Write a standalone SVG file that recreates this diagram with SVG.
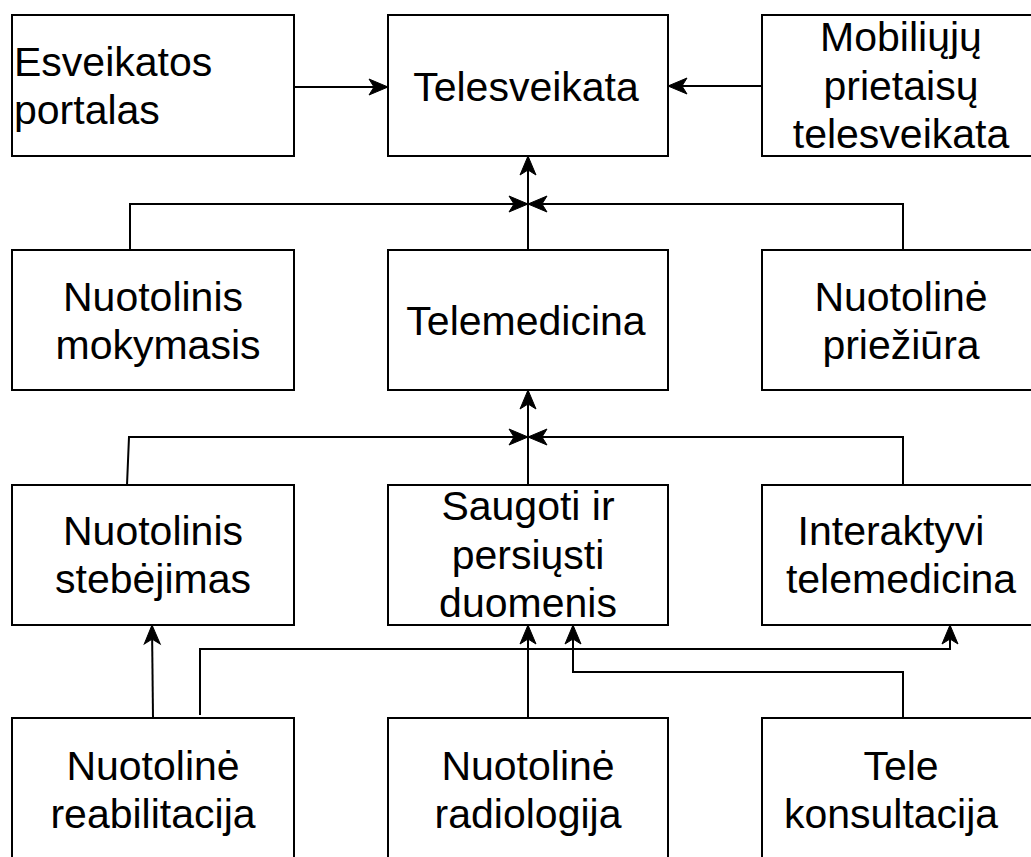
<svg xmlns="http://www.w3.org/2000/svg" width="1031" height="857" viewBox="0 0 1031 857">
<defs>
<style>
.box{fill:#fff;stroke:#000;stroke-width:2}
.t{font-family:"Liberation Sans",Arial,sans-serif;font-size:41px;fill:#000;text-anchor:middle}
.tl{text-anchor:start}
.c{fill:none;stroke:#000;stroke-width:2}
</style>
<marker id="ah" markerUnits="userSpaceOnUse" markerWidth="24" markerHeight="20" refX="19" refY="8" orient="auto" overflow="visible">
<path d="M0,0 L19,8 L0,16 L5,8 Z" fill="#000" stroke="#000" stroke-width="1" stroke-linejoin="miter"/>
</marker>
</defs>
<rect width="1031" height="857" fill="#fff"/>
<g id="connectors">
<path class="c" d="M294,87 L388,87" marker-end="url(#ah)"/>
<path class="c" d="M762,86 L668,86" marker-end="url(#ah)"/>
<path class="c" d="M528,250 L528,156" marker-end="url(#ah)"/>
<path class="c" d="M130,250 L130,204 L528,204" marker-end="url(#ah)"/>
<path class="c" d="M903,250 L903,204 L528,204" marker-end="url(#ah)"/>
<path class="c" d="M528,485 L528,390" marker-end="url(#ah)"/>
<path class="c" d="M127,485 L129,437 L528,437" marker-end="url(#ah)"/>
<path class="c" d="M903,485 L903,437 L528,437" marker-end="url(#ah)"/>
<path class="c" d="M153,718 L152,625" marker-end="url(#ah)"/>
<path class="c" d="M200,715 L200,649 L950,649 L950,625" marker-end="url(#ah)"/>
<path class="c" d="M528,718 L528,625" marker-end="url(#ah)"/>
<path class="c" d="M903,718 L903,672 L573,672 L573,625" marker-end="url(#ah)"/>
</g>
<g id="esveikatos">
<rect class="box" x="12" y="15" width="282" height="141"/>
<text class="t tl" x="14" y="76">Esveikatos</text>
<text class="t tl" x="14" y="124">portalas</text>
</g>
<g id="telesveikata">
<rect class="box" x="388" y="15" width="280" height="141"/>
<text class="t" x="526" y="101">Telesveikata</text>
</g>
<g id="mobiliuju">
<rect class="box" x="762" y="15" width="280" height="141"/>
<text class="t" x="901" y="51">Mobiliųjų</text>
<text class="t" x="901" y="100">prietaisų</text>
<text class="t" x="901" y="148">telesveikata</text>
</g>
<g id="mokymasis">
<rect class="box" x="12" y="250" width="282" height="140"/>
<text class="t" x="153" y="311">Nuotolinis</text>
<text class="t" x="158" y="359">mokymasis</text>
</g>
<g id="telemedicina">
<rect class="box" x="388" y="250" width="280" height="140"/>
<text class="t" x="526" y="335">Telemedicina</text>
</g>
<g id="prieziura">
<rect class="box" x="762" y="250" width="280" height="140"/>
<text class="t" x="901" y="311">Nuotolinė</text>
<text class="t" x="901" y="359">priežiūra</text>
</g>
<g id="stebejimas">
<rect class="box" x="12" y="485" width="282" height="140"/>
<text class="t" x="153" y="545">Nuotolinis</text>
<text class="t" x="153" y="593">stebėjimas</text>
</g>
<g id="saugoti">
<rect class="box" x="388" y="485" width="280" height="140"/>
<text class="t" x="528" y="520">Saugoti ir</text>
<text class="t" x="528" y="569">persiųsti</text>
<text class="t" x="528" y="617">duomenis</text>
</g>
<g id="interaktyvi">
<rect class="box" x="762" y="485" width="280" height="140"/>
<text class="t" x="891" y="545">Interaktyvi</text>
<text class="t" x="901" y="593">telemedicina</text>
</g>
<g id="reabilitacija">
<rect class="box" x="12" y="718" width="282" height="150"/>
<text class="t" x="153" y="780">Nuotolinė</text>
<text class="t" x="153" y="828">reabilitacija</text>
</g>
<g id="radiologija">
<rect class="box" x="388" y="718" width="280" height="150"/>
<text class="t" x="528" y="780">Nuotolinė</text>
<text class="t" x="528" y="828">radiologija</text>
</g>
<g id="konsultacija">
<rect class="box" x="762" y="718" width="280" height="150"/>
<text class="t" x="901" y="780">Tele</text>
<text class="t" x="891" y="828">konsultacija</text>
</g>
</svg>
